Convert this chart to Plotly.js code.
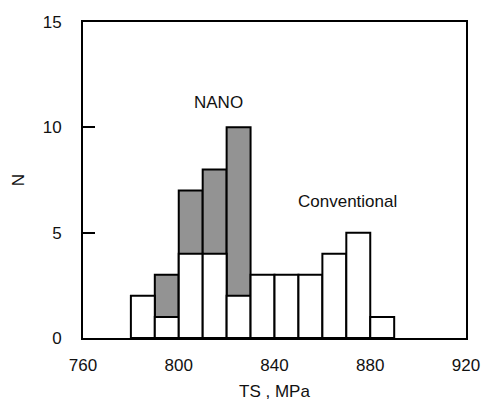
<!DOCTYPE html>
<html>
<head>
<meta charset="utf-8">
<script src="https://cdn.plot.ly/plotly-3.0.1.min.js"></script>
<style>html,body{margin:0;padding:0;background:#fff;}#chart{width:484px;height:401px;}</style>
</head>
<body>
<div id="chart"></div>
<script>
// Bin centres (MPa) and counts, bin width 10 MPa
const convBins = [785, 795, 805, 815, 825, 835, 845, 855, 865, 875, 885];
const convCounts = [2, 1, 4, 4, 2, 3, 3, 3, 4, 5, 1];
const nanoBins = [795, 805, 815, 825];
const nanoCounts = [3, 7, 8, 10];
const xTicks = [760, 800, 840, 880, 920];
const yTicks = [0, 5, 10, 15];
const labels = {nano: 'NANO', conv: 'Conventional', x: 'TS , MPa', y: 'N'};

const font = {family: 'Liberation Sans, Arial, sans-serif', size: 17, color: '#111'};

const traces = [
  {type: 'bar', x: nanoBins, y: nanoCounts, width: 10, name: labels.nano,
   marker: {color: '#939393', line: {color: '#000', width: 2}}},
  {type: 'bar', x: convBins, y: convCounts, width: 10, name: labels.conv,
   marker: {color: '#ffffff', line: {color: '#000', width: 2}}}
];

const layout = {
  width: 484, height: 401,
  margin: {l: 83, r: 18, t: 22, b: 63},
  paper_bgcolor: '#fff', plot_bgcolor: '#fff',
  barmode: 'overlay', bargap: 0,
  showlegend: false,
  font: font,
  xaxis: {
    range: [760, 920], tickvals: xTicks, ticktext: xTicks.map(String),
    ticks: '', showgrid: false, zeroline: false,
    showline: true, linecolor: '#000', linewidth: 2, mirror: true,
    ticklabelstandoff: 11,
    title: {text: labels.x, font: font, standoff: 15}
  },
  yaxis: {
    range: [0, 15], tickvals: yTicks, ticktext: yTicks.map(String),
    ticks: 'inside', ticklen: 12, tickwidth: 2, tickcolor: '#000',
    showgrid: false, zeroline: false,
    showline: true, linecolor: '#000', linewidth: 2, mirror: true,
    ticklabelstandoff: 16,
    title: {text: labels.y, font: font, standoff: 14}
  },
  annotations: [
    {x: 816.8, y: 11.18, xref: 'x', yref: 'y', text: labels.nano, showarrow: false, font: font},
    {x: 870.6, y: 6.48, xref: 'x', yref: 'y', text: labels.conv, showarrow: false, font: font}
  ]
};

Plotly.newPlot('chart', traces, layout, {displayModeBar: false, staticPlot: true});
</script>
</body>
</html>
